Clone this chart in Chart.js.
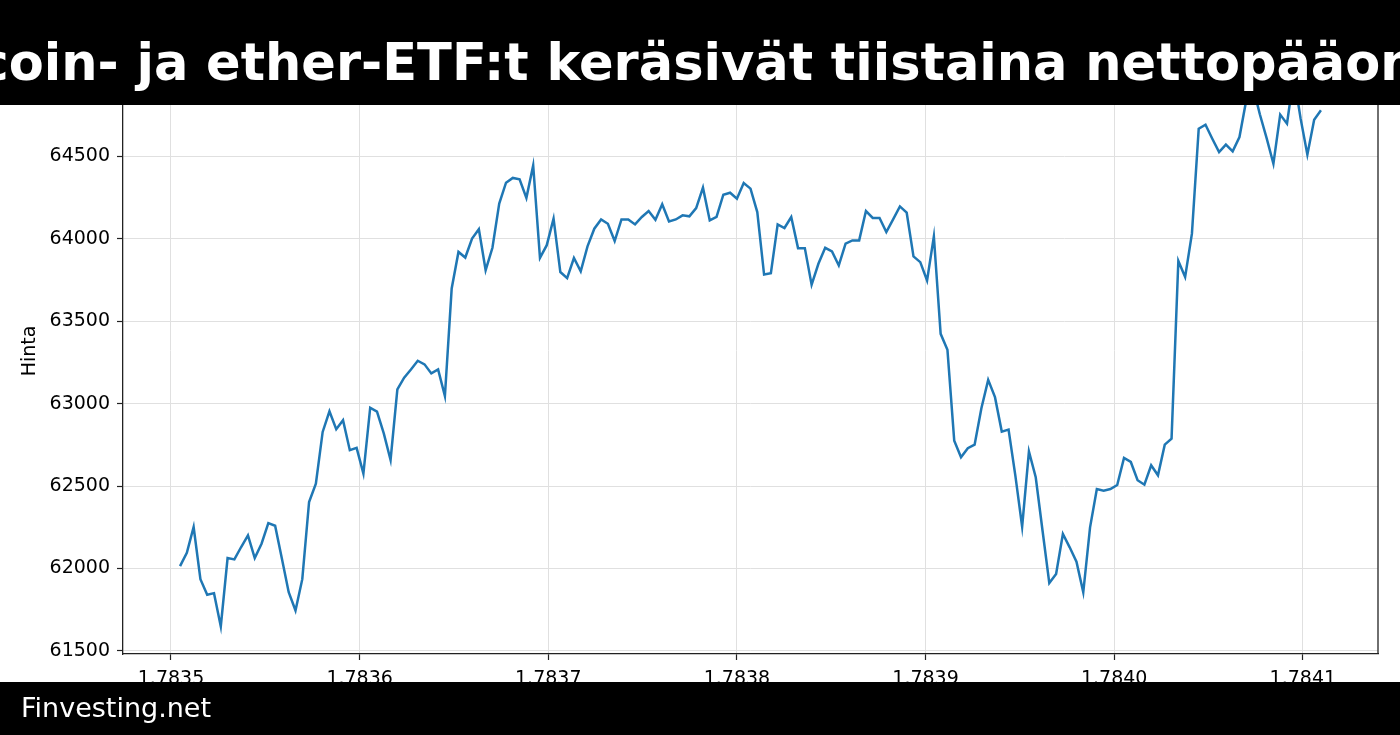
<!DOCTYPE html>
<html>
<head>
<meta charset="utf-8">
<title>Hinta</title>
<script src="https://cdn.jsdelivr.net/npm/chart.js@4.4.1/dist/chart.umd.min.js"></script>
<style>
  html, body { margin: 0; padding: 0; background: #fff; }
  canvas { display: block; }
</style>
</head>
<body>
<canvas id="priceChart" width="1400" height="735"></canvas>
<script>
// Hourly price, one value per hour starting at startTime (unix seconds)
var startTime = 1783504800;
var stepSeconds = 3600;
var prices = [
  62014, 62095, 62251, 61935, 61840, 61850, 61648, 62063, 62055, 62130,
  62200, 62063, 62150, 62275, 62259, 62059, 61856, 61745, 61935, 62403,
  62514, 62828, 62953, 62844, 62899, 62717, 62731, 62575, 62975, 62951,
  62819, 62658, 63086, 63157, 63207, 63260, 63238, 63183, 63207, 63046,
  63698, 63920, 63886, 64001, 64058, 63809, 63945, 64213, 64340, 64369,
  64361, 64248, 64445, 63884, 63961, 64122, 63798, 63761, 63883, 63802,
  63954, 64061, 64117, 64091, 63986, 64117, 64117, 64087, 64132, 64168,
  64115, 64209, 64105, 64117, 64142, 64136, 64186, 64310, 64111, 64132,
  64267, 64279, 64243, 64338, 64304, 64162, 63783, 63791, 64087, 64065,
  64132, 63943, 63943, 63721, 63848, 63945, 63923, 63838, 63970, 63990,
  63990, 64168, 64126, 64126, 64041, 64117, 64196, 64158, 63893, 63858,
  63747, 64014, 63423, 63326, 62775, 62674, 62729, 62751, 62972, 63144,
  63039, 62830, 62842, 62563, 62253, 62709, 62553, 62230, 61911, 61966,
  62209, 62128, 62041, 61855, 62249, 62482, 62472, 62482, 62506, 62670,
  62646, 62535, 62508, 62626, 62565, 62751, 62787, 63865, 63768, 64031,
  64668, 64692, 64607, 64526, 64571, 64530, 64617, 64840, 64920, 64755,
  64610, 64455, 64753, 64698, 64990, 64730, 64510, 64722, 64779
];

// tick positions
var xTickValues = [1783500000, 1783600000, 1783700000, 1783800000, 1783900000, 1784000000, 1784100000];
var yTickValues = [61500, 62000, 62500, 63000, 63500, 64000, 64500, 65000];

var titleText = 'Bitcoin- ja ether-ETF:t keräsivät tiistaina nettopääomaa';
var footerText = 'Finvesting.net';
var yAxisLabel = 'Hinta';

var points = prices.map(function (p, i) {
  return { x: startTime + i * stepSeconds, y: p };
});

// matplotlib style 5% margins
var span = (prices.length - 1) * stepSeconds;
var xMin = startTime - 0.05 * span;
var xMax = startTime + span + 0.05 * span;
var pMin = Math.min.apply(null, prices);
var pMax = Math.max.apply(null, prices);
var yMin = pMin - 0.05 * (pMax - pMin);
var yMax = pMax + 0.05 * (pMax - pMin);

Chart.defaults.font.family = '"DejaVu Sans", sans-serif';
Chart.defaults.font.size = 19;
Chart.defaults.color = '#000';

// black banners on top and bottom plus the right spine
var bannerPlugin = {
  id: 'banner',
  afterDraw: function (chart) {
    var ctx = chart.ctx;
    var area = chart.chartArea;
    ctx.save();
    ctx.strokeStyle = '#222';
    ctx.lineWidth = 1.3;
    ctx.beginPath();
    ctx.moveTo(area.right, area.top);
    ctx.lineTo(area.right, area.bottom);
    ctx.stroke();

    ctx.fillStyle = '#000';
    ctx.fillRect(0, 0, chart.width, 105);
    ctx.fillStyle = '#fff';
    ctx.font = 'bold 51px "DejaVu Sans"';
    ctx.textAlign = 'center';
    ctx.textBaseline = 'alphabetic';
    ctx.fillText(titleText, chart.width / 2, 80);

    ctx.fillStyle = '#000';
    ctx.fillRect(0, 682, chart.width, chart.height - 682);
    ctx.fillStyle = '#fff';
    ctx.font = '27px "DejaVu Sans"';
    ctx.textAlign = 'left';
    ctx.fillText(footerText, 21, 717);
    ctx.restore();
  }
};

var ctx = document.getElementById('priceChart');
var priceChart = new Chart(ctx, {
  type: 'line',
  data: {
    datasets: [{
      data: points,
      borderColor: '#1f77b4',
      borderWidth: 2.5,
      pointRadius: 0,
      tension: 0,
      fill: false
    }]
  },
  options: {
    responsive: false,
    animation: false,
    devicePixelRatio: 1,
    layout: { padding: { top: 48, right: 22, bottom: 0, left: 0 } },
    plugins: {
      legend: { display: false },
      tooltip: { enabled: false }
    },
    scales: {
      x: {
        type: 'linear',
        min: xMin,
        max: xMax,
        afterBuildTicks: function (scale) {
          scale.ticks = xTickValues.map(function (v) { return { value: v }; });
        },
        afterFit: function (scale) { scale.height = 81; },
        ticks: {
          padding: 8,
          maxRotation: 0,
          autoSkip: false,
          callback: function (value) { return (value / 1e9).toFixed(4); }
        },
        grid: { color: '#e0e0e0', lineWidth: 1, tickColor: '#222', tickLength: 6, tickWidth: 1.2 },
        border: { color: '#222', width: 1.3 }
      },
      y: {
        min: yMin,
        max: yMax,
        afterBuildTicks: function (scale) {
          scale.ticks = yTickValues.map(function (v) { return { value: v }; });
        },
        afterFit: function (scale) { scale.width = 123; },
        ticks: {
          padding: 7,
          callback: function (value) { return String(value); }
        },
        title: {
          display: true,
          text: yAxisLabel,
          padding: { top: 19, bottom: 0 },
          font: { size: 19 }
        },
        grid: { color: '#e0e0e0', lineWidth: 1, tickColor: '#222', tickLength: 6, tickWidth: 1.2 },
        border: { color: '#222', width: 1.3 }
      }
    }
  },
  plugins: [bannerPlugin]
});
</script>
</body>
</html>
